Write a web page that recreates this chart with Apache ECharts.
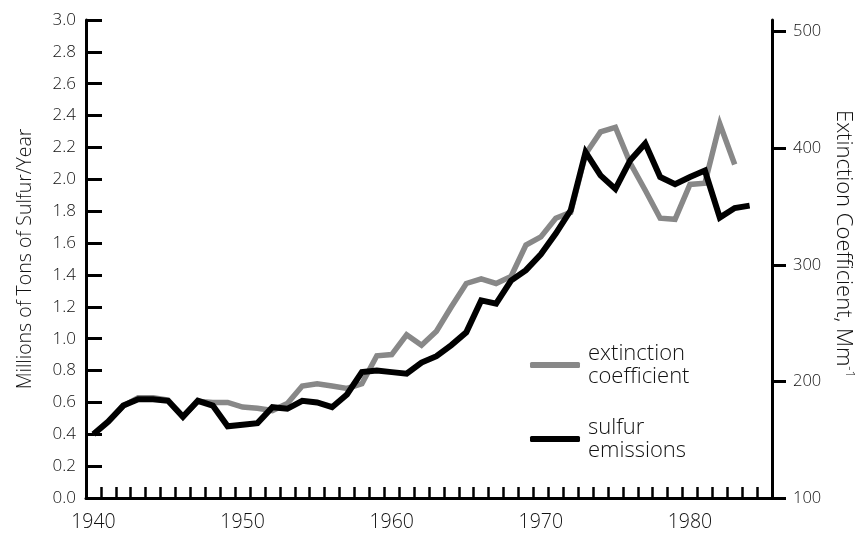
<!DOCTYPE html>
<html><head><meta charset="utf-8">
<script src="https://cdn.jsdelivr.net/npm/echarts@6/dist/echarts.min.js"></script>
<style>html,body{margin:0;padding:0;background:#fff}#c{width:856px;height:533px}</style>
</head><body><div id="c"></div>
<script>
// Years (category axis), one per data point
const years = ['1940','1941','1942','1943','1944','1945','1946','1947','1948','1949',
  '1950','1951','1952','1953','1954','1955','1956','1957','1958','1959',
  '1960','1961','1962','1963','1964','1965','1966','1967','1968','1969',
  '1970','1971','1972','1973','1974','1975','1976','1977','1978','1979',
  '1980','1981','1982','1983','1984','1985'];

// Sulfur emissions, millions of tons of sulfur per year (left axis)
const sulfurEmissions = [0.40,0.48,0.58,0.62,0.62,0.61,0.51,0.61,0.58,0.45,
  0.46,0.47,0.57,0.56,0.61,0.60,0.57,0.65,0.79,0.80,
  0.79,0.78,0.85,0.89,0.96,1.04,1.24,1.22,1.365,1.43,
  1.53,1.66,1.805,2.17,2.025,1.94,2.12,2.225,2.015,1.97,
  2.015,2.055,1.76,1.82,1.835];

// Extinction coefficient, Mm^-1 (right axis)
const extinctionCoefficient = [155,166,179,186,186,184,170,183,182,182,
  178,177,175,181,196,198,196,194,198,222,
  223,240,231,243,264,284,288,284,290,317,
  324,340,345,395,414,418,387,364,340,339,
  369,370,421,386];

const rightTicks = [100,200,300,400,500];
const seriesNames = ['extinction\ncoefficient', 'sulfur\nemissions'];

const FONT = 'Open Sans';
const FW = 350;
const TXT = '#111';
const chart = echarts.init(document.getElementById('c'), null, {renderer:'canvas'});
chart.setOption({
  animation: false,
  backgroundColor: '#fff',
  grid: {left: 86, right: 84, top: 20, bottom: 35, containLabel: false, outerBoundsMode: 'none'},
  legend: {
    orient: 'vertical', left: 530, top: 342, padding: 0,
    itemWidth: 50, itemHeight: 6, itemGap: 28,
    icon: 'roundRect',
    textStyle: {fontFamily: FONT, fontWeight: FW, fontSize: 22, lineHeight: 23, color: TXT, padding: [0,0,0,3]},
    data: seriesNames
  },
  xAxis: {
    type: 'category', data: years, boundaryGap: true,
    axisLine: {lineStyle: {color: '#000', width: 3}},
    axisTick: {show: true, inside: true, interval: 0, length: 11, lineStyle: {color: '#000', width: 2.5}},
    axisLabel: {interval: 9, margin: 14, fontFamily: FONT, fontWeight: FW, fontSize: 19.5, color: TXT},
    splitLine: {show: false}
  },
  yAxis: [{
    type: 'value', min: 0, max: 3, interval: 0.2, position: 'left',
    name: 'Millions of Tons of Sulfur/Year', nameLocation: 'middle', nameGap: 51, nameRotate: 90,
    nameTextStyle: {fontFamily: FONT, fontWeight: FW, fontSize: 19.5, color: TXT},
    axisLine: {show: true, lineStyle: {color: '#000', width: 3}},
    axisTick: {show: true, inside: true, length: 16, lineStyle: {color: '#000', width: 3}},
    axisLabel: {margin: 10, fontFamily: FONT, fontWeight: FW, fontSize: 17, color: TXT, formatter: v => v.toFixed(1)},
    splitLine: {show: false}
  }, {
    type: 'value', min: 100, max: 510, position: 'right',
    name: '{n|Extinction Coefficient, Mm}{s|-1}', nameLocation: 'middle', nameGap: 59, nameRotate: -90,
    nameTextStyle: {fontFamily: FONT, fontWeight: FW, fontSize: 22, color: TXT, padding: [0, 30, 0, 0],
      rich: {n: {fontFamily: FONT, fontWeight: FW, fontSize: 22, color: TXT, lineHeight: 25},
             s: {fontFamily: FONT, fontWeight: FW, fontSize: 13, color: TXT, lineHeight: 25, verticalAlign: 'top', padding: [0,0,8,0]}}},
    axisLine: {show: true, lineStyle: {color: '#000', width: 3}},
    axisTick: {show: true, inside: false, length: 14, customValues: rightTicks, lineStyle: {color: '#000', width: 3}},
    axisLabel: {margin: 21, fontFamily: FONT, fontWeight: FW, fontSize: 16.5, color: TXT, customValues: rightTicks},
    splitLine: {show: false}
  }],
  series: [{
    name: seriesNames[0], type: 'line', yAxisIndex: 1, data: extinctionCoefficient,
    showSymbol: false, symbol: 'none', z: 2,
    itemStyle: {color: '#888'},
    lineStyle: {color: '#888', width: 5.5, join: 'miter', cap: 'butt'}
  }, {
    name: seriesNames[1], type: 'line', yAxisIndex: 0, data: sulfurEmissions,
    showSymbol: false, symbol: 'none', z: 3,
    itemStyle: {color: '#000'},
    lineStyle: {color: '#000', width: 6, join: 'miter', cap: 'butt'}
  }]
});
</script></body></html>
